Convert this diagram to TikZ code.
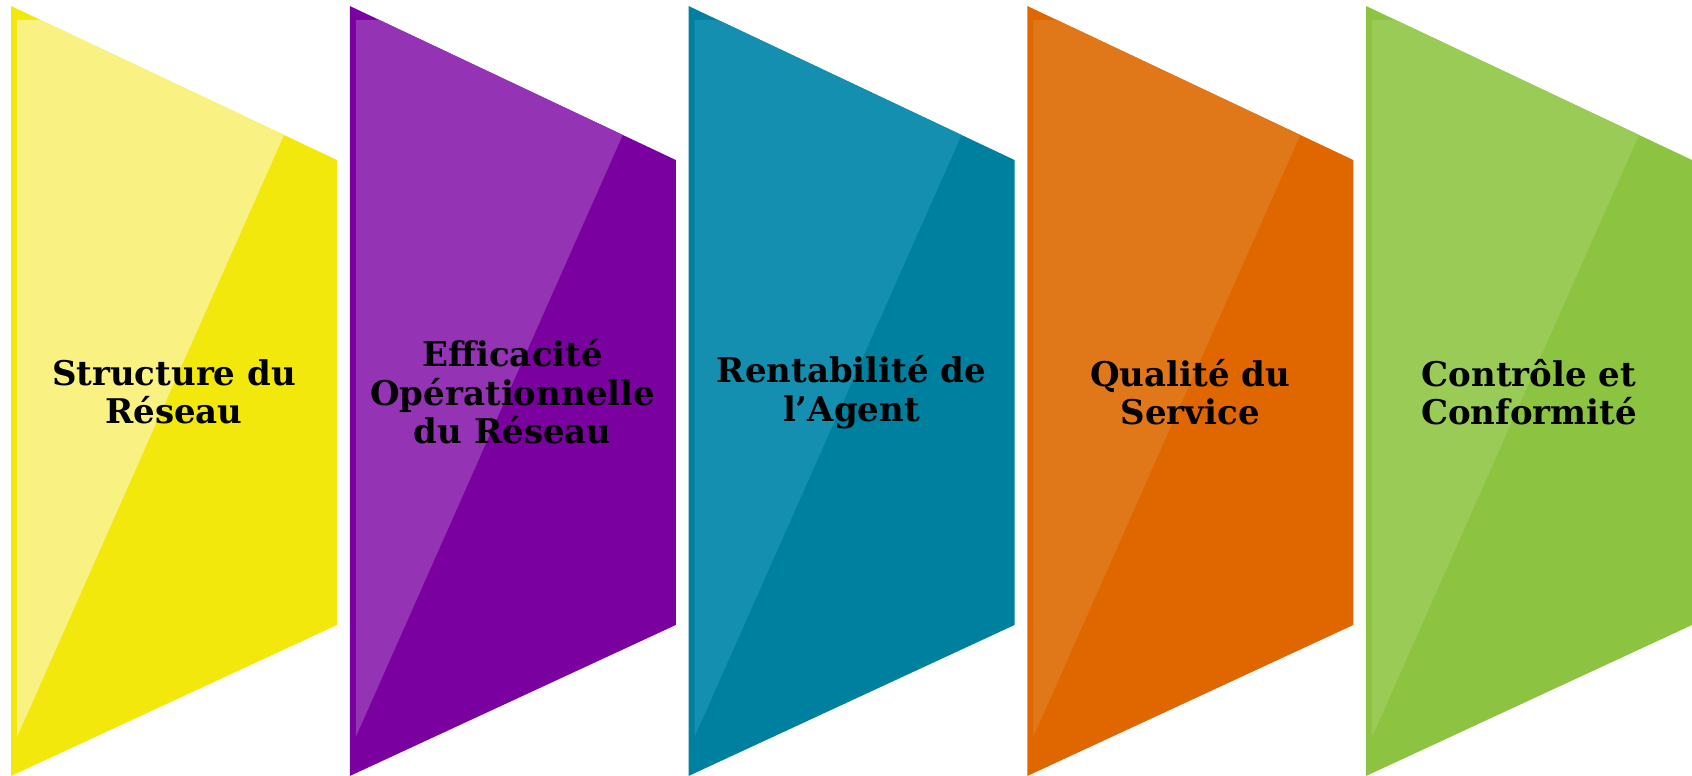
\documentclass[tikz,border=0pt]{standalone}
\usepackage{fontspec}
\setmainfont{DejaVu Serif}
\usetikzlibrary{backgrounds}
\definecolor{YellowDk}{HTML}{F3E80B}
\definecolor{YellowLt}{HTML}{F9F283}
\definecolor{PurpleDk}{HTML}{7A00A0}
\definecolor{PurpleLt}{HTML}{9433B3}
\definecolor{TealDk}{HTML}{00809F}
\definecolor{TealLt}{HTML}{148FB0}
\definecolor{OrangeDk}{HTML}{E06600}
\definecolor{OrangeLt}{HTML}{E0781A}
\definecolor{GreenDk}{HTML}{8CC442}
\definecolor{GreenLt}{HTML}{9ACB57}
\newcommand{\trpw}{326pt}
\newcommand{\trpwh}{163pt}
\newcommand{\trpstep}{338.75pt}
\newcommand{\trpxa}{11pt}
\newcommand{\trpxb}{\trpxa + \trpstep}
\newcommand{\trpxc}{\trpxb + \trpstep}
\newcommand{\trpxd}{\trpxc + \trpstep}
\newcommand{\trpxe}{\trpxd + \trpstep}
\newcommand{\trpya}{-6pt}
\newcommand{\trpyb}{-160pt}
\newcommand{\trpyc}{-625pt}
\newcommand{\trpyd}{-776pt}
\newcommand{\shnxa}{6pt}
\newcommand{\shnxb}{29.6pt}
\newcommand{\shnxc}{273pt}
\newcommand{\shnya}{-20pt}
\newcommand{\shnyb}{-135pt}
\newcommand{\shnyc}{-737pt}
\newcommand{\trpny}{-392pt}
\newcommand{\trpbody}[1]{
  \pgfpathmoveto{\pgfpoint{#1}{\trpya}}
  \pgfpathlineto{\pgfpoint{#1 + \trpw}{\trpyb}}
  \pgfpathlineto{\pgfpoint{#1 + \trpw}{\trpyc}}
  \pgfpathlineto{\pgfpoint{#1}{\trpyd}}
  \pgfpathclose}
\newcommand{\trpshine}[1]{
  \pgfpathmoveto{\pgfpoint{#1 + \shnxa}{\shnya}}
  \pgfpathlineto{\pgfpoint{#1 + \shnxb}{\shnya}}
  \pgfpathlineto{\pgfpoint{#1 + \shnxc}{\shnyb}}
  \pgfpathlineto{\pgfpoint{#1 + \shnxa}{\shnyc}}
  \pgfpathclose}
\begin{document}
\begin{tikzpicture}[align=center,
    font=\bfseries\fontsize{34}{38.5}\selectfont]
    \useasboundingbox (0pt, 0pt) rectangle (1692pt, -776pt);

    \node (reseau) at (\trpxa + \trpwh, \trpny) {Structure du\\R\'eseau};
    \node (efficacite) at (\trpxb + \trpwh, \trpny)
      {Efficacit\'e\\Op\'erationnelle\\du R\'eseau};
    \node (agent) at (\trpxc + \trpwh, \trpny) {Rentabilit\'e de\\l'Agent};
    \node (service) at (\trpxd + \trpwh, \trpny) {Qualit\'e du\\Service};
    \node (controle) at (\trpxe + \trpwh, \trpny)
      {Contr\^ole et\\Conformit\'e};

    \begin{scope}[on background layer]
      \color{YellowDk}
      \trpbody{\trpxa}
      \pgfusepath{fill}
      \color{YellowLt}
      \trpshine{\trpxa}
      \pgfusepath{fill}
      \color{PurpleDk}
      \trpbody{\trpxb}
      \pgfusepath{fill}
      \color{PurpleLt}
      \trpshine{\trpxb}
      \pgfusepath{fill}
      \color{TealDk}
      \trpbody{\trpxc}
      \pgfusepath{fill}
      \color{TealLt}
      \trpshine{\trpxc}
      \pgfusepath{fill}
      \color{OrangeDk}
      \trpbody{\trpxd}
      \pgfusepath{fill}
      \color{OrangeLt}
      \trpshine{\trpxd}
      \pgfusepath{fill}
      \color{GreenDk}
      \trpbody{\trpxe}
      \pgfusepath{fill}
      \color{GreenLt}
      \trpshine{\trpxe}
      \pgfusepath{fill}
    \end{scope}
  \end{tikzpicture}
\end{document}
